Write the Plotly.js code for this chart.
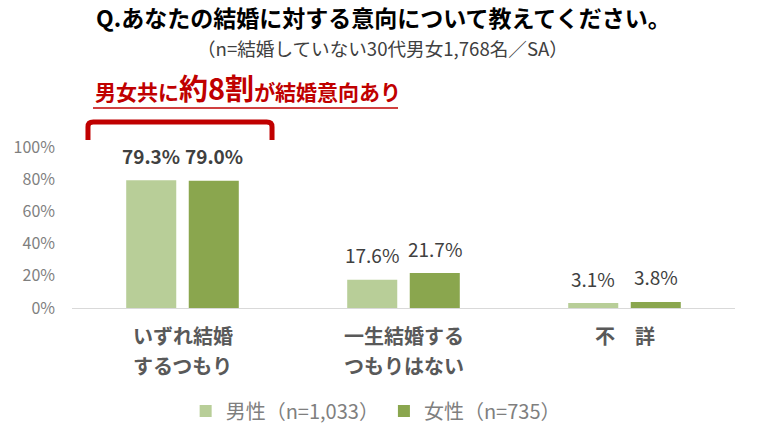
<!DOCTYPE html>
<html>
<head>
<meta charset="utf-8">
<script src="https://cdn.plot.ly/plotly-3.0.1.min.js"></script>
<style>html,body{margin:0;padding:0;background:#fff;}#chart{width:769px;height:444px;}</style>
</head>
<body>
<div id="chart"></div>
<script>
const categories = ['いずれ結婚するつもり', '一生結婚するつもりはない', '不　詳'];
const categoryLine1 = ['いずれ結婚', '一生結婚する', '不　詳'];
const categoryLine2 = ['するつもり', 'つもりはない', ''];
const maleName = '男性（n=1,033）';
const femaleName = '女性（n=735）';
const maleValues = [79.3, 17.6, 3.1];
const femaleValues = [79.0, 21.7, 3.8];
const yTicks = [0, 20, 40, 60, 80, 100];
const yTickLabels = ['0%', '20%', '40%', '60%', '80%', '100%'];

const FONT = '"Noto Sans CJK JP", "Noto Sans", sans-serif';
const maleColor = '#B8CE98';
const femaleColor = '#8AA64E';
const bargap = 0.434;
const bargroupgap = 0.2;
const slot = (1 - bargap) / 2;

function labelText(v, j) {
  const s = v.toFixed(1) + '%';
  return j === 0 ? '<b>' + s + '</b>' : s;
}

const traces = [
  {type: 'bar', name: maleName, x: categories, y: maleValues, marker: {color: maleColor}, hoverinfo: 'none'},
  {type: 'bar', name: femaleName, x: categories, y: femaleValues, marker: {color: femaleColor}, hoverinfo: 'none'}
];

const annotations = [];
[maleValues, femaleValues].forEach((vals, i) => {
  vals.forEach((v, j) => {
    annotations.push({
      xref: 'x', yref: 'y', x: j + (i === 0 ? -slot / 2 : slot / 2), y: v,
      text: labelText(v, j), showarrow: false, yanchor: 'middle', yshift: 25,
      font: {family: FONT, size: 19, color: '#404040'}
    });
  });
});
categories.forEach((c, j) => {
  [categoryLine1[j], categoryLine2[j]].forEach((t, k) => {
    if (!t) return;
    annotations.push({
      xref: 'x', yref: 'paper', x: j, y: k === 0 ? -0.168 : -0.36, yanchor: 'middle',
      text: t, showarrow: false,
      font: {family: FONT, size: 20, color: '#595959', weight: 'bold'}
    });
  });
});
annotations.push({
  xref: 'paper', yref: 'paper', x: 0.4676, y: 1.62, yanchor: 'middle',
  text: '（n=結婚していない30代男女1,768名／SA）', showarrow: false,
  font: {family: FONT, size: 18.6, color: '#404040'}
});
annotations.push({
  xref: 'paper', yref: 'paper', x: 0.0317, xanchor: 'left', y: 1.228, yanchor: 'bottom',
  text: '<b>男女共に<span style="font-size:29px">約8割</span>が結婚意向あり</b>', showarrow: false,
  font: {family: FONT, size: 21, color: '#C00000'}
});

const bx0 = 0.0241, bx1 = 0.3017, byT = 1.155, byB = 1.043, rx = 0.008, ry = 0.03;
const shapes = [
  {type: 'path', xref: 'paper', yref: 'paper',
   path: `M ${bx0},${byB} L ${bx0},${byT - ry} Q ${bx0},${byT} ${bx0 + rx},${byT} L ${bx1 - rx},${byT} Q ${bx1},${byT} ${bx1},${byT - ry} L ${bx1},${byB}`,
   line: {color: '#C00000', width: 5}},
  {type: 'line', xref: 'paper', yref: 'paper', x0: 0.0317, x1: 0.4917, y0: 1.242, y1: 1.242,
   line: {color: '#C00000', width: 1.5}}
];

const layout = {
  width: 769, height: 444,
  margin: {l: 72, r: 34, t: 147, b: 136},
  paper_bgcolor: '#ffffff', plot_bgcolor: '#ffffff',
  font: {family: FONT},
  title: {text: '<b>Q.あなたの結婚に対する意向について教えてください。</b>', x: 0.4985, xanchor: 'center',
          y: 0.957, yanchor: 'middle', xref: 'container', yref: 'container',
          font: {family: FONT, size: 23, color: '#000000'}},
  barmode: 'group', bargap: bargap, bargroupgap: bargroupgap,
  xaxis: {type: 'category', showgrid: false, zeroline: false, showline: true, linecolor: '#D9D9D9', linewidth: 1,
          ticks: '', showticklabels: false},
  yaxis: {range: [0, 100], tickvals: yTicks, ticktext: yTickLabels, showgrid: false, zeroline: false,
          showline: false, ticks: '', ticklabelstandoff: 16,
          tickfont: {family: FONT, size: 16, color: '#7F7F7F'}},
  showlegend: true,
  legend: {orientation: 'h', x: 0.458, xanchor: 'center', y: -0.64, yanchor: 'middle',
           font: {family: FONT, size: 20, color: '#7F7F7F'}, itemclick: false},
  annotations: annotations,
  shapes: shapes
};

Plotly.newPlot('chart', traces, layout, {staticPlot: true, displayModeBar: false});
</script>
</body>
</html>
